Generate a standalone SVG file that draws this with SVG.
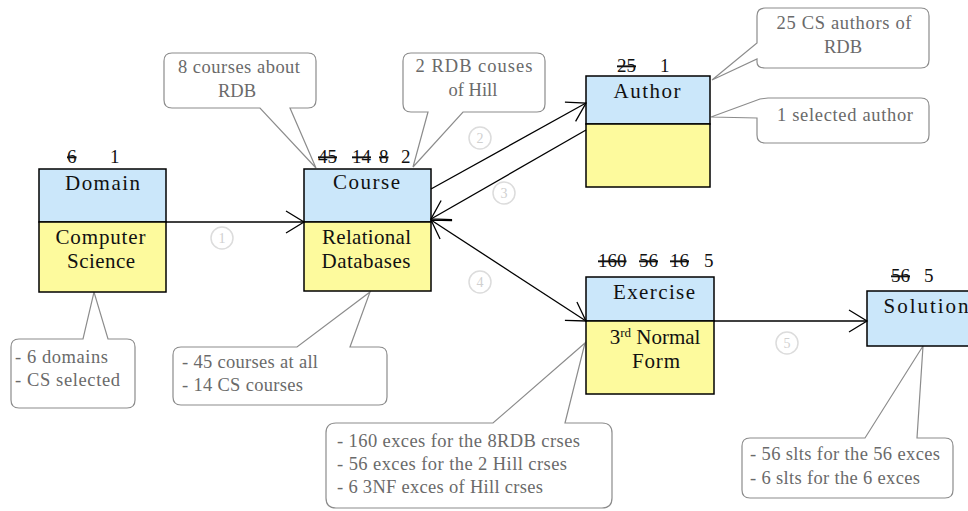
<svg xmlns="http://www.w3.org/2000/svg" width="968" height="511" viewBox="0 0 968 511">
<style>
text{font-family:"Liberation Serif","Times New Roman",serif}
.top{fill:#cbe7fa;stroke:#000;stroke-width:1.5}
.bot{fill:#fdfa9d;stroke:#000;stroke-width:1.5}
.lbl{font-size:21px;fill:#111;text-anchor:middle}
.cnt{font-size:19px;fill:#111}
.st{text-decoration:line-through}
.call{fill:#fff;stroke:#8c8c8c;stroke-width:1.2}
.ct{font-size:18.5px;fill:#6a6a6a}
.ctm{font-size:18.5px;fill:#6a6a6a;text-anchor:middle}
.conn line{stroke:#000;stroke-width:1.3}
.num circle{fill:none;stroke:#dcdcdc;stroke-width:1.5}
.num text{font-size:14px;fill:#d0d0d0;text-anchor:middle}
</style>
<defs>
<marker id="arr" markerUnits="userSpaceOnUse" viewBox="0 0 22 26" markerWidth="22" markerHeight="26" refX="20" refY="13" orient="auto-start-reverse">
<path d="M2,2 L20,13 L2,24" fill="none" stroke="#000" stroke-width="1.3"/>
</marker>
</defs>
<rect width="968" height="511" fill="#fff"/>

<g id="callouts">
<path class="call" d="M172,53 H308 Q316,53 316,61 V100 Q316,108 308,108 H290 L316,168 L260,108 H172 Q164,108 164,100 V61 Q164,53 172,53 Z"/>
<text class="ctm" x="239" y="73" textLength="122">8 courses about</text>
<text class="ctm" x="237" y="97">RDB</text>

<path class="call" d="M411,53 H537 Q545,53 545,61 V104 Q545,112 537,112 H463 L413,167 L428,112 H411 Q403,112 403,104 V61 Q403,53 411,53 Z"/>
<text class="ctm" x="474" y="72" textLength="117">2 RDB couses</text>
<text class="ctm" x="473" y="96">of Hill</text>

<path class="call" d="M765,8 H921 Q929,8 929,16 V60 Q929,68 921,68 H765 Q757,68 757,62 V59 L712,80 L757,43 V16 Q757,8 765,8 Z"/>
<text class="ctm" x="844" y="29" textLength="135">25 CS authors of</text>
<text class="ctm" x="843" y="53">RDB</text>

<path class="call" d="M768,98 H921 Q929,98 929,106 V135 Q929,143 921,143 H765 Q757,143 757,135 V118 L711,117 L760,99 Z"/>
<text class="ctm" x="845" y="121" textLength="136">1 selected author</text>

<path class="call" d="M19,339 H83 L94,292 L108,339 H127 Q135,339 135,347 V400 Q135,408 127,408 H19 Q11,408 11,400 V347 Q11,339 19,339 Z"/>
<text class="ct" x="15" y="363" textLength="93">- 6 domains</text>
<text class="ct" x="15" y="386" textLength="105">- CS selected</text>

<path class="call" d="M181,347 H297 L370,292 L350,347 H379 Q387,347 387,355 V397 Q387,405 379,405 H181 Q173,405 173,397 V355 Q173,347 181,347 Z"/>
<text class="ct" x="182" y="368" textLength="136">- 45 courses at all</text>
<text class="ct" x="182" y="391" textLength="121">- 14 CS courses</text>

<path class="call" d="M336,423 H493 L585,343 L565,423 H602 Q612,423 612,433 V498 Q612,508 602,508 H336 Q326,508 326,498 V433 Q326,423 336,423 Z"/>
<text class="ct" x="337" y="447" textLength="243">- 160 exces for the 8RDB crses</text>
<text class="ct" x="337" y="470" textLength="230">- 56 exces for the 2 Hill crses</text>
<text class="ct" x="337" y="493" textLength="206">- 6 3NF exces of Hill crses</text>

<path class="call" d="M750,438 H865 L923,346 L917,438 H945 Q953,438 953,446 V490 Q953,498 945,498 H750 Q742,498 742,490 V446 Q742,438 750,438 Z"/>
<text class="ct" x="750" y="460" textLength="190">- 56 slts for the 56 exces</text>
<text class="ct" x="750" y="484" textLength="170">- 6 slts for the 6 exces</text>
</g>

<g id="domain">
<rect class="top" x="39" y="169" width="127" height="53"/>
<rect class="bot" x="39" y="222" width="127" height="70"/>
<text class="lbl" x="102.5" y="190" textLength="75">Domain</text>
<text class="lbl" x="100.5" y="244" textLength="90">Computer</text>
<text class="lbl" x="101" y="268" textLength="68">Science</text>
<text class="cnt st" x="67" y="163">6</text>
<text class="cnt" x="110" y="163">1</text>
</g>

<g id="course">
<rect class="top" x="304" y="169" width="127" height="53"/>
<rect class="bot" x="304" y="222" width="127" height="69"/>
<text class="lbl" x="366.5" y="189" textLength="67">Course</text>
<text class="lbl" x="366.5" y="244" textLength="89">Relational</text>
<text class="lbl" x="366" y="268" textLength="89">Databases</text>
<text class="cnt st" x="318" y="163">45</text>
<text class="cnt st" x="352" y="163">14</text>
<text class="cnt st" x="379" y="163">8</text>
<text class="cnt" x="401" y="163">2</text>
</g>

<g id="author">
<rect class="top" x="586" y="76" width="124" height="48"/>
<rect class="bot" x="586" y="124" width="124" height="63"/>
<text class="lbl" x="647" y="98" textLength="67">Author</text>
<text class="cnt st" x="617" y="72">25</text>
<text class="cnt" x="660" y="72">1</text>
</g>

<g id="exercise">
<rect class="top" x="586" y="277" width="128" height="44"/>
<rect class="bot" x="586" y="321" width="128" height="73"/>
<text class="lbl" x="654" y="299" textLength="82">Exercise</text>
<text class="lbl" x="655" y="344">3<tspan font-size="13" dy="-7">rd</tspan><tspan dy="7"> Normal</tspan></text>
<text class="lbl" x="656" y="368" textLength="48">Form</text>
<text class="cnt st" x="598" y="267">160</text>
<text class="cnt st" x="639" y="267">56</text>
<text class="cnt st" x="670" y="267">16</text>
<text class="cnt" x="704" y="267">5</text>
</g>

<g id="solution">
<rect class="top" x="867" y="291" width="128" height="55"/>
<text class="lbl" x="926" y="313" textLength="85">Solution</text>
<text class="cnt st" x="891" y="282">56</text>
<text class="cnt" x="924" y="282">5</text>
</g>

<g id="connectors" class="conn">
<line x1="166" y1="222" x2="304" y2="222" marker-end="url(#arr)"/>
<line x1="431" y1="189" x2="586" y2="103" marker-end="url(#arr)"/>
<line x1="586" y1="130" x2="431" y2="219" marker-end="url(#arr)"/>
<line x1="431" y1="220" x2="586" y2="321" marker-start="url(#arr)" marker-end="url(#arr)"/>
<line x1="714" y1="321" x2="867" y2="321" marker-end="url(#arr)"/>
</g>

<g id="step-labels" class="num">
<circle cx="222" cy="238" r="11"/><text x="222" y="243">1</text>
<circle cx="480" cy="138" r="11"/><text x="480" y="143">2</text>
<circle cx="504" cy="193" r="11"/><text x="504" y="198">3</text>
<circle cx="480" cy="282" r="11"/><text x="480" y="287">4</text>
<circle cx="787" cy="343" r="11"/><text x="787" y="348">5</text>
</g>
</svg>
